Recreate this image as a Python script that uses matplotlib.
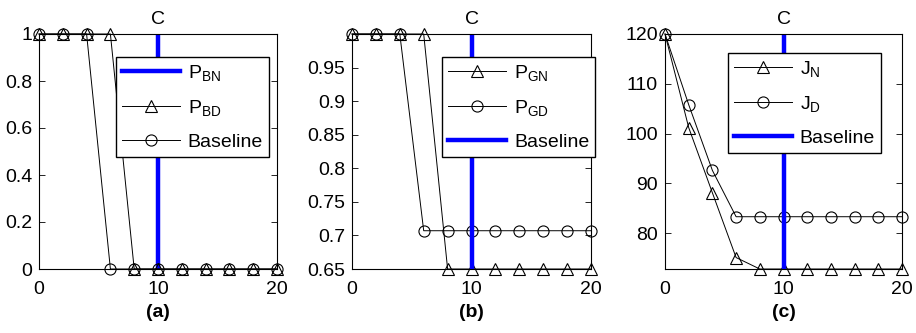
import matplotlib
matplotlib.use("Agg")
import matplotlib.pyplot as plt

plt.rcParams['font.family'] = ['Liberation Sans', 'DejaVu Sans']
plt.rcParams['mathtext.fontset'] = 'custom'
plt.rcParams['mathtext.rm'] = 'Liberation Sans'
plt.rcParams['mathtext.it'] = 'Liberation Sans'

x = [0, 2, 4, 6, 8, 10, 12, 14, 16, 18, 20]
base_x = [10, 10]

# panel (a)
a_pbn_y = [0, 1]
a_pbd = [1, 1, 1, 1, 0, 0, 0, 0, 0, 0, 0]
a_base = [1, 1, 1, 0, 0, 0, 0, 0, 0, 0, 0]
a_yticks = [0, 0.2, 0.4, 0.6, 0.8, 1]
a_ylabels = ['0', '0.2', '0.4', '0.6', '0.8', '1']

# panel (b)
b_pgn = [1, 1, 1, 1, 0.65, 0.65, 0.65, 0.65, 0.65, 0.65, 0.65]
b_pgd = [1, 1, 1, 0.707, 0.707, 0.707, 0.707, 0.707, 0.707, 0.707, 0.707]
b_base_y = [0.65, 1.0]
b_yticks = [0.65, 0.7, 0.75, 0.8, 0.85, 0.9, 0.95]
b_ylabels = ['0.65', '0.7', '0.75', '0.8', '0.85', '0.9', '0.95']

# panel (c)
c_jn = [120, 101.2, 88.1, 75.1, 72.8, 72.8, 72.8, 72.8, 72.8, 72.8, 72.8]
c_jd = [120, 105.8, 92.6, 83.3, 83.3, 83.3, 83.3, 83.3, 83.3, 83.3, 83.3]
c_base_y = [72.8, 120]
c_yticks = [80, 90, 100, 110, 120]
c_ylabels = ['80', '90', '100', '110', '120']

xticks = [0, 10, 20]
xlabels = ['0', '10', '20']

fig = plt.figure(figsize=(9.16, 3.33), dpi=100)
H = 333.0
W = 916.0
def rect(l, r, t=34, b=269):
    return [l / W, 1 - b / H, (r - l) / W, (b - t) / H]

ax_a = fig.add_axes(rect(39, 277))
ax_b = fig.add_axes(rect(352, 591))
ax_c = fig.add_axes(rect(665, 902))

blue = '#0000ff'
mk = dict(markersize=8, markerfacecolor='none', markeredgecolor='black',
          color='black', linewidth=0.7, markeredgewidth=0.8, clip_on=False)
leg_kw = dict(fontsize=14, fancybox=False, edgecolor='black', framealpha=1,
              handlelength=3.0, borderaxespad=0.0, labelspacing=0.78,
              borderpad=0.3, handletextpad=0.4)

# (a)
ax_a.plot(base_x, a_pbn_y, color=blue, linewidth=3.2, label=r'$\mathrm{P_{BN}}$')
ax_a.plot(x, a_pbd, marker='^', label=r'$\mathrm{P_{BD}}$', **mk)
ax_a.plot(x, a_base, marker='o', label='Baseline', **mk)
ax_a.set_ylim(0, 1)
ax_a.set_yticks(a_yticks)
ax_a.set_yticklabels(a_ylabels)
ax_a.legend(loc='upper right', bbox_to_anchor=(0.966, 0.902), **leg_kw)
ax_a.set_xlabel('(a)', fontweight='bold')

# (b)
ax_b.plot(x, b_pgn, marker='^', label=r'$\mathrm{P_{GN}}$', **mk)
ax_b.plot(x, b_pgd, marker='o', label=r'$\mathrm{P_{GD}}$', **mk)
ax_b.plot(base_x, b_base_y, color=blue, linewidth=3.2, label='Baseline')
ax_b.set_ylim(0.65, 1.0)
ax_b.set_yticks(b_yticks)
ax_b.set_yticklabels(b_ylabels)
ax_b.legend(loc='upper right', bbox_to_anchor=(1.017, 0.902), **leg_kw)
ax_b.set_xlabel('(b)', fontweight='bold')

# (c)
ax_c.plot(x, c_jn, marker='^', label=r'$\mathrm{J_{N}}$', **mk)
ax_c.plot(x, c_jd, marker='o', label=r'$\mathrm{J_{D}}$', **mk)
ax_c.plot(base_x, c_base_y, color=blue, linewidth=3.2, label='Baseline')
ax_c.set_ylim(72.8, 120)
ax_c.set_yticks(c_yticks)
ax_c.set_yticklabels(c_ylabels)
ax_c.legend(loc='upper right', bbox_to_anchor=(0.911, 0.919), **leg_kw)
ax_c.set_xlabel('(c)', fontweight='bold')

for ax in (ax_a, ax_b, ax_c):
    ax.set_xlim(0, 20)
    ax.set_xticks(xticks)
    ax.set_xticklabels(xlabels)
    ax.set_title('C', fontsize=14, pad=7)
    ax.tick_params(direction='in', top=True, right=True, labelsize=14,
                   length=4, width=0.6)
    ax.tick_params(axis='x', pad=9)
    ax.tick_params(axis='y', pad=5)
    ax.xaxis.label.set_size(14)
    ax.xaxis.labelpad = 4
    for s in ax.spines.values():
        s.set_linewidth(0.8)

fig.savefig('out.png', dpi=100)
